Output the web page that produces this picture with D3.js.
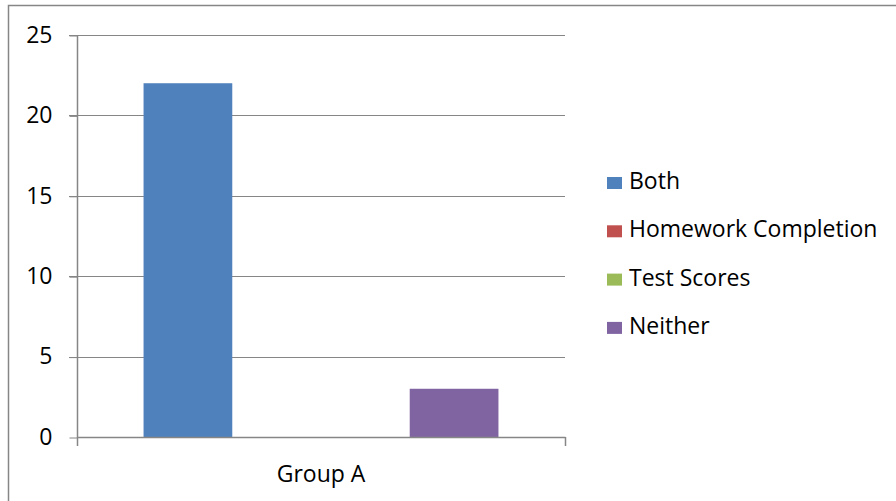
<!DOCTYPE html>
<html><head><meta charset="utf-8">
<script src="https://cdn.jsdelivr.net/npm/d3@7"></script>
<style>body{margin:0;background:#fff}svg{display:block;font-family:"Open Sans",sans-serif}</style>
</head><body><svg id="c" width="896" height="501"></svg>
<script>
const categories = ["Group A"];
const seriesNames = ["Both", "Homework Completion", "Test Scores", "Neither"];
const seriesValues = [[22], [0], [0], [3]];
const colors = ["#4F81BD", "#C0504D", "#9BBB59", "#8064A2"];
const yTicks = [0, 5, 10, 15, 20, 25];

const svg = d3.select("#c");
svg.append("rect").attr("x", 8.5).attr("y", 5.5).attr("width", 1000).attr("height", 1000)
  .attr("fill", "none").attr("stroke", "#868686").attr("stroke-width", 1.5);

const L = 77, R = 565, T = 35, B = 437;
const y = d3.scaleLinear().domain([0, 25]).range([B, T]);
const x0 = d3.scaleBand().domain(categories).range([L, R]).padding(0);
// gap width 150% => outer padding = 0.75 bar each side
const x1 = d3.scaleBand().domain(seriesNames).range([0, x0.bandwidth()]).paddingInner(0).paddingOuter(0.75);

// gridlines
svg.append("g").selectAll("line").data(yTicks.filter(d => d > 0)).join("line")
  .attr("x1", L - 8).attr("x2", R).attr("y1", d => Math.round(y(d)) + 0.5).attr("y2", d => Math.round(y(d)) + 0.5)
  .attr("stroke", "#868686").attr("stroke-width", 1);

// bars
const g = svg.append("g");
categories.forEach((c, ci) => {
  seriesNames.forEach((s, si) => {
    const v = seriesValues[si][ci];
    g.append("rect").attr("x", x0(c) + x1(s)).attr("width", x1.bandwidth())
      .attr("y", y(v)).attr("height", B - y(v)).attr("fill", colors[si]);
  });
});

// y axis
const yAxis = d3.axisLeft(y).tickValues(yTicks).tickSize(8).tickPadding(17).tickFormat(d3.format("d"));
const ya = svg.append("g").attr("transform", `translate(${L + 0.5},0)`).call(yAxis);
ya.select(".domain").remove();
ya.selectAll(".tick line").attr("stroke", "#868686").attr("y1", 0.5).attr("y2", 0.5);
ya.selectAll(".tick text").attr("font-size", 23).attr("fill", "#000").attr("font-family", "Open Sans");
svg.append("line").attr("x1", L + 0.5).attr("x2", L + 0.5).attr("y1", T).attr("y2", B + 9)
  .attr("stroke", "#868686").attr("stroke-width", 1.5);

// x axis
svg.append("line").attr("x1", L).attr("x2", R + 0.5).attr("y1", B + 0.5).attr("y2", B + 0.5)
  .attr("stroke", "#868686").attr("stroke-width", 1.5);
const xAxis = d3.axisBottom(x0).tickSize(0).tickPadding(29);
const xa = svg.append("g").attr("transform", `translate(0,${B})`).call(xAxis);
xa.select(".domain").remove();
xa.selectAll(".tick text").attr("font-size", 23).attr("fill", "#000").attr("font-family", "Open Sans");
svg.append("line").attr("x1", R + 0.5).attr("x2", R + 0.5).attr("y1", B).attr("y2", B + 9)
  .attr("stroke", "#868686").attr("stroke-width", 1.5);

// legend
const lg = svg.append("g").attr("transform", "translate(607,0)");
seriesNames.forEach((s, i) => {
  const by = 189 + i * 48.3;
  lg.append("rect").attr("x", 0).attr("y", by - 12).attr("width", 15).attr("height", 12).attr("fill", colors[i]);
  lg.append("text").attr("x", 22).attr("y", by).attr("font-size", 23).attr("fill", "#000").text(s);
});
</script></body></html>
